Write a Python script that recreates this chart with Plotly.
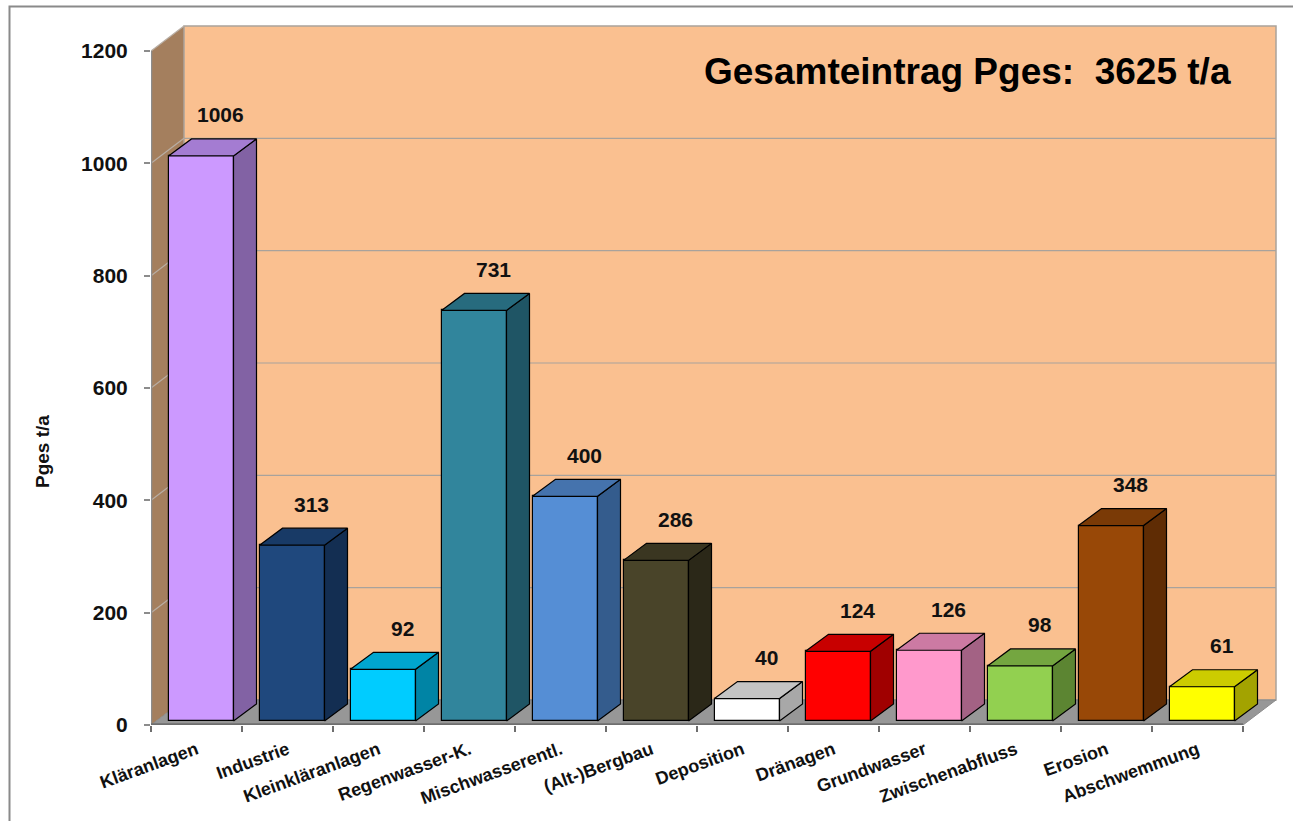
import plotly.graph_objects as go

# ---- data -------------------------------------------------------------
categories = [
    "Kläranlagen", "Industrie", "Kleinkläranlagen", "Regenwasser-K.",
    "Mischwasserentl.", "(Alt-)Bergbau", "Deposition", "Dränagen",
    "Grundwasser", "Zwischenabfluss", "Erosion", "Abschwemmung",
]
values = [1006, 313, 92, 731, 400, 286, 40, 124, 126, 98, 348, 61]
y_ticks = [0, 200, 400, 600, 800, 1000, 1200]
total_label = "Gesamteintrag Pges:\u00a0 3625 t/a"
y_title = "Pges t/a"

# ---- face colours (front / top / side) --------------------------------
front_colors = ["#CC99FF", "#1F487D", "#00CCFF", "#31859C", "#558ED5", "#494429",
                "#FFFFFF", "#FF0000", "#FF99CC", "#92D050", "#984807", "#FFFF00"]
top_colors = ["#A47CD2", "#183A66", "#00A6CF", "#276B7E", "#4573AD", "#3A3621",
              "#C4C4C4", "#C80000", "#CC7AA3", "#74A640", "#7A3A06", "#CCCC00"]
side_colors = ["#8262A4", "#132E52", "#0084A5", "#1F5565", "#345C8D", "#2B2818",
               "#A8A8A8", "#A00000", "#A36284", "#5C8532", "#5F2C04", "#A3A300"]

FONT = "Liberation Sans, Arial, sans-serif"

# ---- canvas geometry --------------------------------------------------
W, H = 1293, 821
ML, MR, MT, MB = 151, 15, 25, 96
plot_w = W - ML - MR
plot_h = H - MT - MB
CAT_PX = 91.0              # pixels per category
Y_PX = 674.0 / 1200.0      # pixels per unit on the value axis
x_range = [-0.5, -0.5 + plot_w / CAT_PX]
y_range = [0, plot_h / Y_PX]


def dx(px):
    return px / CAT_PX


def dy(px):
    return px / Y_PX


# oblique depth of walls/floor and of the bars
WALL_DX, WALL_DY = dx(33), dy(25)
BAR_F_DX, BAR_F_DY = dx(4.5), dy(4)
BAR_DEPTH_DX, BAR_DEPTH_DY = dx(23), dy(17)
BAR_W = dx(65)

n = len(categories)
x_left, x_right = -0.5, n - 0.5

shapes = []

# left wall
shapes.append(dict(
    type="path", xref="x", yref="y", layer="below",
    path=(f"M{x_left},0 L{x_left},{y_ticks[-1]} "
          f"L{x_left + WALL_DX},{y_ticks[-1] + WALL_DY} L{x_left + WALL_DX},{WALL_DY} Z"),
    fillcolor="#A47F5E", line=dict(width=0),
))
# back wall
shapes.append(dict(
    type="rect", xref="x", yref="y", layer="below",
    x0=x_left + WALL_DX, x1=x_right + WALL_DX, y0=WALL_DY, y1=y_ticks[-1] + WALL_DY,
    fillcolor="#FAC090", line=dict(color="#ABA39B", width=1.5),
))
# floor
shapes.append(dict(
    type="path", xref="x", yref="y", layer="below",
    path=(f"M{x_left},0 L{x_right},0 L{x_right + WALL_DX},{WALL_DY} "
          f"L{x_left + WALL_DX},{WALL_DY} Z"),
    fillcolor="#979797", line=dict(color="#8A8A8A", width=1),
))
# gridlines on back wall and left wall
for v in y_ticks[1:-1]:
    shapes.append(dict(
        type="line", xref="x", yref="y", layer="below",
        x0=x_left + WALL_DX, x1=x_right + WALL_DX, y0=v + WALL_DY, y1=v + WALL_DY,
        line=dict(color="#A8A29C", width=1.2),
    ))
for v in y_ticks[1:]:
    shapes.append(dict(
        type="line", xref="x", yref="y", layer="below",
        x0=x_left, x1=x_left + WALL_DX, y0=v, y1=v + WALL_DY,
        line=dict(color="#B8AEA4", width=1.2),
    ))
# axis lines (front edges)
shapes.append(dict(
    type="line", xref="x", yref="y", layer="above",
    x0=x_left, x1=x_left, y0=0, y1=y_ticks[-1],
    line=dict(color="#8C8C8C", width=2.5),
))
shapes.append(dict(
    type="line", xref="x", yref="y", layer="above",
    x0=x_left, x1=x_right, y0=0, y1=0,
    line=dict(color="#6E6E6E", width=3.5),
))


# outer frame around the chart
def px_to_paper_x(px):
    return (px - ML) / plot_w


def px_to_paper_y(py):
    return (H - MB - py) / plot_h


shapes.append(dict(
    type="path", xref="paper", yref="paper",
    path=(f"M{px_to_paper_x(9.5)},{px_to_paper_y(840)} "
          f"L{px_to_paper_x(9.5)},{px_to_paper_y(6.5)} "
          f"L{px_to_paper_x(1320)},{px_to_paper_y(6.5)}"),
    line=dict(color="#8A8A8A", width=2),
))

fig = go.Figure()

# front faces of the bars
bar_x = [i + BAR_F_DX for i in range(n)]
fig.add_trace(go.Bar(
    x=bar_x, y=values, base=[BAR_F_DY] * n, width=BAR_W,
    marker=dict(color=front_colors, line=dict(color="#000000", width=1.2)),
    hovertext=categories, hoverinfo="text+y", showlegend=False,
))

# top and side faces of the bars
for i, v in enumerate(values):
    xl = i + BAR_F_DX - BAR_W / 2
    xr = i + BAR_F_DX + BAR_W / 2
    y0 = BAR_F_DY
    y1 = BAR_F_DY + v
    top_x = [xl, xr, xr + BAR_DEPTH_DX, xl + BAR_DEPTH_DX, xl]
    top_y = [y1, y1, y1 + BAR_DEPTH_DY, y1 + BAR_DEPTH_DY, y1]
    side_x = [xr, xr + BAR_DEPTH_DX, xr + BAR_DEPTH_DX, xr, xr]
    side_y = [y0, y0 + BAR_DEPTH_DY, y1 + BAR_DEPTH_DY, y1, y0]
    for fx, fy, col in ((side_x, side_y, side_colors[i]), (top_x, top_y, top_colors[i])):
        fig.add_trace(go.Scatter(
            x=fx, y=fy, mode="lines", fill="toself", fillcolor=col,
            line=dict(color="#000000", width=1.2), hoverinfo="skip", showlegend=False,
        ))

# invisible trace on the secondary axis carrying the category separators
fig.add_trace(go.Scatter(x=[0], y=[0], xaxis="x2", mode="markers",
                         marker=dict(opacity=0), hoverinfo="skip", showlegend=False))

annotations = []
for i, v in enumerate(values):
    annotations.append(dict(
        x=i + dx(24), y=v, xref="x", yref="y", text=str(v), showarrow=False,
        yshift=45, font=dict(family=FONT, size=21, color="#111111", weight="bold"),
    ))
annotations.append(dict(
    x=px_to_paper_x(967), y=px_to_paper_y(71), xref="paper", yref="paper",
    text=total_label, showarrow=False, xanchor="center", yanchor="middle",
    font=dict(family=FONT, size=37, color="#000000", weight="bold"),
))
annotations.append(dict(
    x=px_to_paper_x(42), y=px_to_paper_y(452), xref="paper", yref="paper",
    text=y_title, showarrow=False, textangle=-90, xanchor="center", yanchor="middle",
    font=dict(family=FONT, size=19, color="#111111", weight="bold"),
))

fig.update_layout(
    width=W, height=H,
    margin=dict(l=ML, r=MR, t=MT, b=MB, pad=0),
    paper_bgcolor="#FFFFFF", plot_bgcolor="rgba(0,0,0,0)",
    shapes=shapes, annotations=annotations,
    bargap=0, showlegend=False,
    xaxis=dict(
        type="linear", range=x_range, tickmode="array",
        tickvals=list(range(n)), ticktext=categories, tickangle=-20,
        ticks="", showgrid=False, zeroline=False, showline=False,
        ticklabelstandoff=10,
        tickfont=dict(family=FONT, size=18, color="#111111", weight="bold"),
        fixedrange=True,
    ),
    xaxis2=dict(
        type="linear", range=x_range, overlaying="x", anchor="y", side="bottom",
        tickmode="array", tickvals=[k - 0.5 for k in range(n + 1)],
        ticks="outside", ticklen=6, tickcolor="#6E6E6E", tickwidth=1.5,
        showticklabels=False, showgrid=False, zeroline=False, showline=False,
        fixedrange=True,
    ),
    yaxis=dict(
        range=y_range, tickmode="array", tickvals=y_ticks,
        ticks="outside", ticklen=6, tickcolor="#8C8C8C", tickwidth=1.5,
        showgrid=False, zeroline=False, showline=False, ticklabelstandoff=12,
        tickfont=dict(family=FONT, size=21, color="#111111", weight="bold"),
        fixedrange=True,
    ),
)

fig.write_html("out.html")
